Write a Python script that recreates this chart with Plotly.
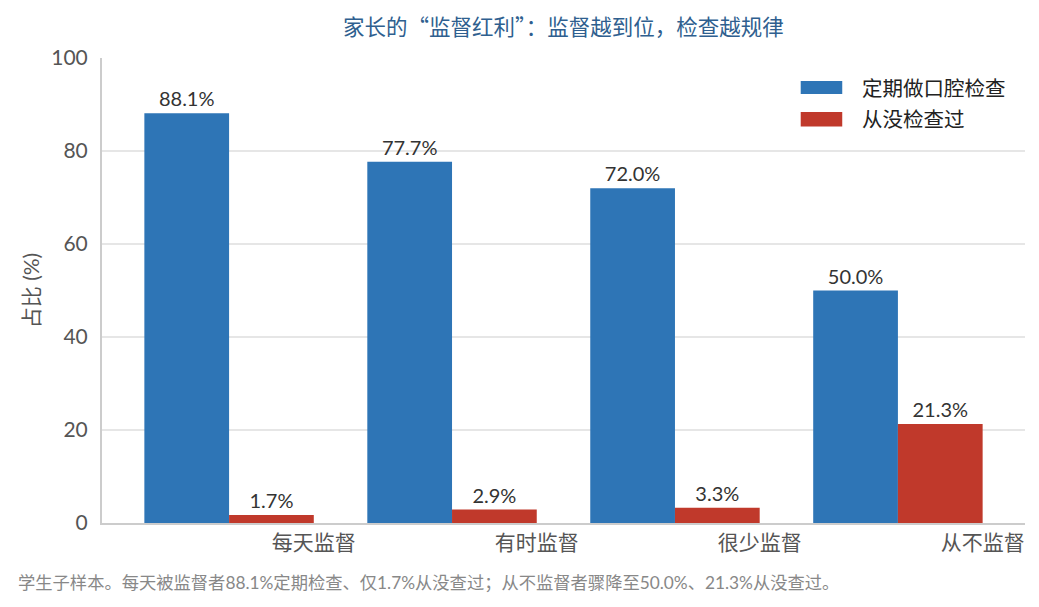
import numpy as np
import plotly.graph_objects as go

categories = ['每天监督', '有时监督', '很少监督', '从不监督']
regular_check = [88.1, 77.7, 72.0, 50.0]
never_checked = [1.7, 2.9, 3.3, 21.3]
series_names = ['定期做口腔检查', '从没检查过']
colors = ['#2e75b6', '#c0392b']

BAR_W = 0.38
FONT = 'Lato, "Noto Sans CJK SC", sans-serif'
CJK_FONT = '"Noto Sans CJK SC", Lato, sans-serif'

pos = np.arange(len(categories))

fig = go.Figure()
for vals, name, color, off in [(regular_check, series_names[0], colors[0], -BAR_W),
                               (never_checked, series_names[1], colors[1], 0.0)]:
    fig.add_trace(go.Bar(
        x=pos, y=vals, name=name, width=BAR_W, offset=off,
        marker=dict(color=color, line=dict(width=0)),
        texttemplate='%{y:.1f}%', textposition='outside',
        textfont=dict(size=20, color='#333333', family=FONT),
        cliponaxis=False, showlegend=False,
    ))

# legend drawn by hand so the swatches can be wide rectangles
legend_y = [(0.9505, 0.9226), (0.8839, 0.8525)]
for (y1, y0), name, color in zip(legend_y, series_names, colors):
    fig.add_shape(type='rect', xref='paper', yref='paper',
                  x0=0.757, x1=0.802, y0=y0, y1=y1,
                  fillcolor=color, line=dict(width=0))
    fig.add_annotation(xref='paper', yref='paper', x=0.821, y=(y0 + y1) / 2,
                       text=name, showarrow=False, xanchor='left', yanchor='middle',
                       font=dict(size=20.5, color='#222222', family=FONT))

fig.add_annotation(
    xref='paper', yref='paper', x=-0.093, y=-0.129, xanchor='left', yanchor='middle',
    text='学生子样本。每天被监督者88.1%定期检查、仅1.7%从没查过；从不监督者骤降至50.0%、21.3%从没查过。',
    showarrow=False, font=dict(size=17.3, color='#888888', family=FONT))

fig.update_layout(
    width=1039, height=607,
    margin=dict(l=102, r=14, t=58, b=84),
    paper_bgcolor='white', plot_bgcolor='white',
    barmode='overlay',
    font=dict(family=FONT, color='#555555'),
    title=dict(text='家长的“监督红利”：监督越到位，检查越规律',
               x=0.5, xref='paper', xanchor='center',
               y=1 - 27 / 607, yref='container', yanchor='middle',
               font=dict(size=21.5, color='#2f5f8f', family=CJK_FONT)),
    xaxis=dict(range=[-0.57, 3.57], tickvals=pos + BAR_W, ticktext=categories,
               showgrid=False, showline=True, linecolor='#cccccc', linewidth=2,
               ticks='', tickfont=dict(size=21, color='#555555'), zeroline=False),
    yaxis=dict(range=[0, 100], dtick=20, showgrid=True, gridcolor='#e6e6e6', gridwidth=1.5,
               showline=True, linecolor='#cccccc', linewidth=2, zeroline=False,
               ticks='', ticklabelstandoff=8, tickfont=dict(size=21, color='#555555'),
               title=dict(text='占比 (%)', font=dict(size=21, color='#555555'), standoff=6)),
)

fig.write_html('out.html', config={'displayModeBar': False},
               post_script="document.body.style.margin='0';")
